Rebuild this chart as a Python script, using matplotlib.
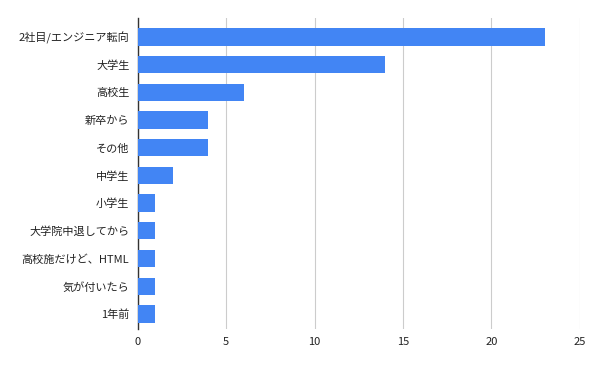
import matplotlib
matplotlib.use("Agg")
import matplotlib.pyplot as plt

plt.rcParams['font.family'] = ['Noto Sans CJK JP', 'DejaVu Sans']

categories = ["2社目/エンジニア転向", "大学生", "高校生", "新卒から", "その他", "中学生",
              "小学生", "大学院中退してから", "高校施だけど、HTML", "気が付いたら", "1年前"]
values = [23, 14, 6, 4, 4, 2, 1, 1, 1, 1, 1]
xticks = [0, 5, 10, 15, 20, 25]

fig = plt.figure(figsize=(6, 3.71), dpi=100)
ax = fig.add_axes([0.2295, 0.113, 0.737, 0.838])
pos = list(range(len(categories)))
ax.barh(pos, values, height=0.625, color="#4285F4", zorder=3)
ax.set_ylim(len(categories) - 0.45, -0.68)
ax.set_xlim(0, 25)
ax.set_xticks(xticks)
ax.set_xticklabels([str(t) for t in xticks], fontsize=8, color="#222222")
ax.set_yticks(pos)
ax.set_yticklabels(categories, fontsize=8, color="#222222")
ax.tick_params(axis='both', length=0, pad=6)
ax.xaxis.grid(True, color="#cccccc", linewidth=0.8, zorder=0)
for s in ["top", "right", "bottom"]:
    ax.spines[s].set_visible(False)
ax.spines["left"].set_color("#333333")
ax.spines["left"].set_linewidth(1)
fig.savefig("out.png", dpi=100, facecolor="white")
